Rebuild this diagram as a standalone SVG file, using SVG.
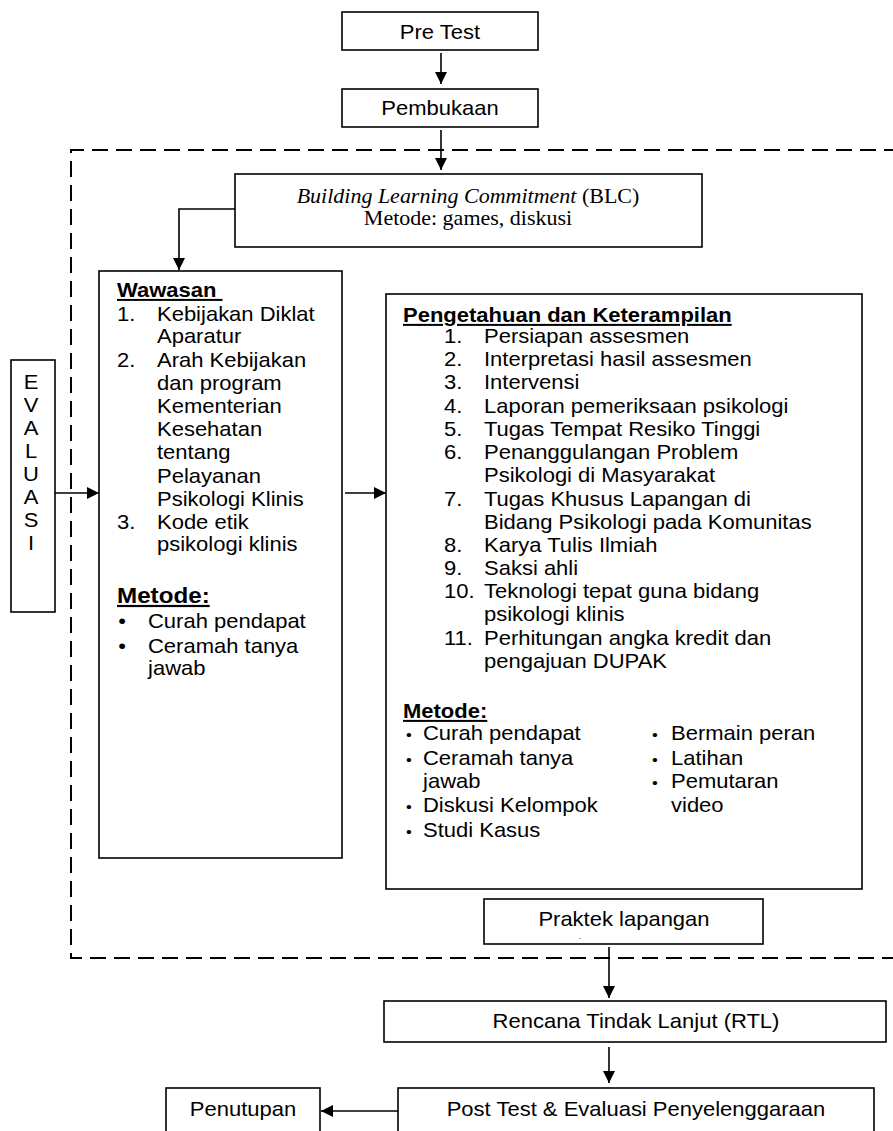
<svg xmlns="http://www.w3.org/2000/svg" width="893" height="1131" viewBox="0 0 893 1131">
<style>
.box { fill: #fff; stroke: #000; stroke-width: 1.6; }
.dash { fill: none; stroke: #000; stroke-width: 2; stroke-dasharray: 16 8; }
.con { fill: none; stroke: #000; stroke-width: 1.6; marker-end: url(#ah); }
.s { font-family: "Liberation Sans", Arial, sans-serif; font-size: 20px; fill: #000; transform-box: fill-box; transform-origin: 0 50%; transform: scaleX(1.1); }
.m { text-anchor: middle; transform-origin: 50% 50%; }
.b { font-weight: bold; text-decoration: underline; }
.serif { font-family: "Liberation Serif", "Times New Roman", serif; }
.bul { text-anchor: middle; transform-origin: 50% 50%; }
</style>
<defs>
<marker id="ah" markerWidth="12" markerHeight="12" refX="12" refY="6" orient="auto" markerUnits="userSpaceOnUse">
<path d="M0,0 L12,6 L0,12 z" fill="#000"/>
</marker>
</defs>
<rect width="893" height="1131" fill="#fff"/>

<g id="frame">
<path class="dash" d="M900 150 H71 V958 H900"/>
</g>

<g id="pretest">
<rect class="box" x="342" y="12" width="196" height="38"/>
<text class="s m" x="440" y="39">Pre Test</text>
</g>

<g id="pembukaan">
<rect class="box" x="342" y="89" width="196" height="38"/>
<text class="s m" x="440" y="115">Pembukaan</text>
</g>

<g id="blc">
<rect class="box" x="235" y="174" width="467" height="73"/>
<text class="s m serif" x="468" y="203"><tspan font-style="italic">Building Learning Commitment</tspan> (BLC)</text>
<text class="s m serif" x="468" y="225">Metode: games, diskusi</text>
</g>

<g id="evaluasi">
<rect class="box" x="11" y="360" width="44" height="252"/>
<text class="s m" x="31" y="389">E</text>
<text class="s m" x="31" y="412">V</text>
<text class="s m" x="31" y="435">A</text>
<text class="s m" x="31" y="458">L</text>
<text class="s m" x="31" y="481">U</text>
<text class="s m" x="31" y="504">A</text>
<text class="s m" x="31" y="527">S</text>
<text class="s m" x="31" y="550">I</text>
</g>

<g id="wawasan">
<rect class="box" x="99" y="271" width="243" height="587"/>
<text class="s b" x="117" y="297" xml:space="preserve">Wawasan </text>
<text class="s" x="117" y="321">1.</text>
<text class="s" x="157" y="321">Kebijakan Diklat</text>
<text class="s" x="157" y="343">Aparatur</text>
<text class="s" x="117" y="367">2.</text>
<text class="s" x="157" y="367">Arah Kebijakan</text>
<text class="s" x="157" y="390">dan program</text>
<text class="s" x="157" y="413">Kementerian</text>
<text class="s" x="157" y="436">Kesehatan</text>
<text class="s" x="157" y="459">tentang</text>
<text class="s" x="157" y="483">Pelayanan</text>
<text class="s" x="157" y="506">Psikologi Klinis</text>
<text class="s" x="117" y="529">3.</text>
<text class="s" x="157" y="529">Kode etik</text>
<text class="s" x="157" y="551">psikologi klinis</text>
<text class="s b" x="117" y="603" style="font-size:22px">Metode:</text>
<text class="s bul" x="122" y="628">•</text>
<text class="s" x="148" y="628">Curah pendapat</text>
<text class="s bul" x="122" y="653">•</text>
<text class="s" x="148" y="653">Ceramah tanya</text>
<text class="s" x="148" y="675">jawab</text>
</g>

<g id="pengetahuan">
<rect class="box" x="386" y="294" width="476" height="595"/>
<text class="s b" x="403" y="322">Pengetahuan dan Keterampilan</text>
<text class="s" x="444" y="343">1.</text>
<text class="s" x="484" y="343">Persiapan assesmen</text>
<text class="s" x="444" y="366">2.</text>
<text class="s" x="484" y="366">Interpretasi hasil assesmen</text>
<text class="s" x="444" y="389">3.</text>
<text class="s" x="484" y="389">Intervensi</text>
<text class="s" x="444" y="413">4.</text>
<text class="s" x="484" y="413">Laporan pemeriksaan psikologi</text>
<text class="s" x="444" y="436">5.</text>
<text class="s" x="484" y="436">Tugas Tempat Resiko Tinggi</text>
<text class="s" x="444" y="459">6.</text>
<text class="s" x="484" y="459">Penanggulangan Problem</text>
<text class="s" x="484" y="482">Psikologi di Masyarakat</text>
<text class="s" x="444" y="506">7.</text>
<text class="s" x="484" y="506">Tugas Khusus Lapangan di</text>
<text class="s" x="484" y="529">Bidang Psikologi pada Komunitas</text>
<text class="s" x="444" y="552">8.</text>
<text class="s" x="484" y="552">Karya Tulis Ilmiah</text>
<text class="s" x="444" y="575">9.</text>
<text class="s" x="484" y="575">Saksi ahli</text>
<text class="s" x="444" y="598">10.</text>
<text class="s" x="484" y="598">Teknologi tepat guna bidang</text>
<text class="s" x="484" y="621">psikologi klinis</text>
<text class="s" x="444" y="645">11.</text>
<text class="s" x="484" y="645">Perhitungan angka kredit dan</text>
<text class="s" x="484" y="668">pengajuan DUPAK</text>
<text class="s b" x="403" y="718">Metode:</text>
<text class="s bul" x="409" y="740" style="font-size:15px">•</text>
<text class="s" x="423" y="740">Curah pendapat</text>
<text class="s bul" x="409" y="765" style="font-size:15px">•</text>
<text class="s" x="423" y="765">Ceramah tanya</text>
<text class="s" x="423" y="788">jawab</text>
<text class="s bul" x="409" y="812" style="font-size:15px">•</text>
<text class="s" x="423" y="812">Diskusi Kelompok</text>
<text class="s bul" x="409" y="837" style="font-size:15px">•</text>
<text class="s" x="423" y="837">Studi Kasus</text>
<text class="s bul" x="655" y="740" style="font-size:15px">•</text>
<text class="s" x="671" y="740">Bermain peran</text>
<text class="s bul" x="655" y="765" style="font-size:15px">•</text>
<text class="s" x="671" y="765">Latihan</text>
<text class="s bul" x="655" y="788" style="font-size:15px">•</text>
<text class="s" x="671" y="788">Pemutaran</text>
<text class="s" x="671" y="812">video</text>
</g>

<g id="praktek">
<rect class="box" x="484" y="899" width="279" height="45"/>
<text class="s m" x="624" y="926">Praktek lapangan</text>
<text class="s m" x="580" y="939" style="font-size:8px">.</text>
</g>

<g id="rtl">
<rect class="box" x="384" y="1001" width="502" height="41"/>
<text class="s m" x="636" y="1028">Rencana Tindak Lanjut (RTL)</text>
</g>

<g id="posttest">
<rect class="box" x="398" y="1088" width="476" height="60"/>
<text class="s m" x="636" y="1116">Post Test &amp; Evaluasi Penyelenggaraan</text>
</g>

<g id="penutupan">
<rect class="box" x="166" y="1088" width="154" height="60"/>
<text class="s m" x="243" y="1116">Penutupan</text>
</g>

<g id="connectors">
<path class="con" d="M441 53 V84"/>
<path class="con" d="M441 130 V170"/>
<path class="con" d="M235 209 H179 V270"/>
<path class="con" d="M55 493 H99"/>
<path class="con" d="M345 493 H386"/>
<path class="con" d="M609 947 V998"/>
<path class="con" d="M609 1047 V1083"/>
<path class="con" d="M398 1111 H321"/>
</g>
</svg>
